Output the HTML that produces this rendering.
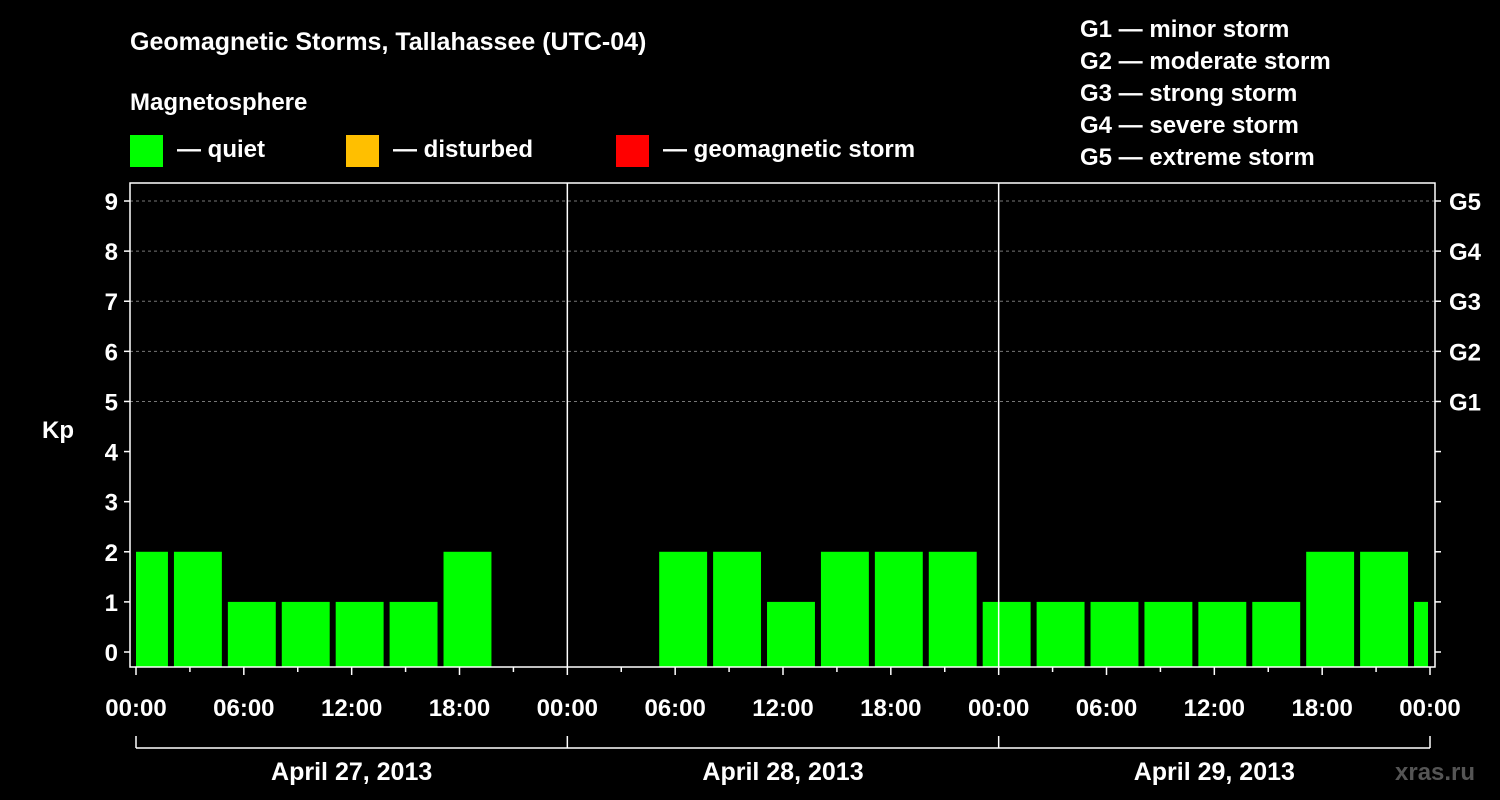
<!DOCTYPE html>
<html><head><meta charset="utf-8"><style>
html,body{margin:0;padding:0;background:#000;}
svg{display:block;font-family:"Liberation Sans",Arial,sans-serif;font-weight:bold;}
</style></head><body>
<svg id="chart" width="1500" height="800" viewBox="0 0 1500 800" xmlns="http://www.w3.org/2000/svg">
<rect width="1500" height="800" fill="#000"/>
<text x="130" y="50" fill="#fff" font-size="25">Geomagnetic Storms, Tallahassee (UTC-04)</text>
<text x="130" y="110" fill="#fff" font-size="24">Magnetosphere</text>
<g><rect x="130" y="135" width="33" height="32" fill="#00ff00"/><text x="177" y="157" fill="#fff" font-size="24">— quiet</text></g>
<g><rect x="346" y="135" width="33" height="32" fill="#ffbf00"/><text x="393" y="157" fill="#fff" font-size="24">— disturbed</text></g>
<g><rect x="616" y="135" width="33" height="32" fill="#ff0000"/><text x="663" y="157" fill="#fff" font-size="24">— geomagnetic storm</text></g>
<g fill="#fff" font-size="24">
<text x="1080" y="37">G1 — minor storm</text>
<text x="1080" y="69">G2 — moderate storm</text>
<text x="1080" y="101">G3 — strong storm</text>
<text x="1080" y="133">G4 — severe storm</text>
<text x="1080" y="165">G5 — extreme storm</text>
</g>
<g id="plot"></g>
<text x="1395" y="780" fill="#555" font-size="24">xras.ru</text>
</svg>
<script>
const days = ["April 27, 2013","April 28, 2013","April 29, 2013"];
const binStartHours = [-1,2,5,8,11,14,17, 29,32,35,38,41,44,47, 50,53,56,59,62,65,68,71];
const kpValues = [2,2,1,1,1,1,2, 2,2,1,2,2,2,1, 1,1,1,1,1,1,2,2,1];
const kpValuesFixed = [2,2,1,1,1,1,2, 2,2,1,2,2,2,1, 1,1,1,1,1,2,2,1];
const yTicks = [0,1,2,3,4,5,6,7,8,9];
const gLabels = ["G1","G2","G3","G4","G5"];
const xTickLabels = ["00:00","06:00","12:00","18:00"];

const NS="http://www.w3.org/2000/svg";
const g=document.getElementById('plot');
const X0=136,X1=1430,L=130,R=1435,T=183,B=667;
const x=h=>X0+h*(X1-X0)/72;
const y=v=>652-v*50.11;
function mk(tag,attrs,parent){const e=document.createElementNS(NS,tag);for(const k in attrs)e.setAttribute(k,attrs[k]);(parent||g).appendChild(e);return e;}

// gridlines
for(const v of yTicks){ if(v>=5){const l=mk('line',{x1:L,x2:R,y1:y(v),y2:y(v),stroke:'#777','stroke-dasharray':'3,3','stroke-width':1});

}}
// bars
kpValuesFixed.forEach((v,i)=>{
  const s=binStartHours[i];
  let xa=x(s)+2, xb=x(s+3)-4;
  xa=Math.max(xa,X0); xb=Math.min(xb,1428);
  const col=v>=5?'#ff0000':(v>=4?'#ffbf00':'#00ff00');
  const r=mk('rect',{x:xa,y:y(v),width:xb-xa,height:B-y(v),fill:col});
  
  
});
// frame
const fr=mk('rect',{x:L,y:T,width:R-L,height:B-T,fill:'none',stroke:'#fff','stroke-width':1.5});


// day dividers
[1,2].forEach(d=>{const l=mk('line',{x1:x(24*d),x2:x(24*d),y1:T,y2:B,stroke:'#fff','stroke-width':1.5});

});
// y ticks
yTicks.forEach(v=>{
  mk('line',{x1:L-6,x2:L,y1:y(v),y2:y(v),stroke:'#fff','stroke-width':1.5});
  mk('line',{x1:R,x2:R+6,y1:y(v),y2:y(v),stroke:'#fff','stroke-width':1.5});
  const t=mk('text',{x:L-12,y:y(v)+9,fill:'#fff','font-size':24,'text-anchor':'end'});t.textContent=v;
  
  
});
gLabels.forEach((s,i)=>{const t=mk('text',{x:1449,y:y(5+i)+9,fill:'#fff','font-size':24});t.textContent=s;

});
const yt=mk('text',{x:42,y:438,fill:'#fff','font-size':24});yt.textContent='Kp';


// x ticks
for(let h=0;h<=72;h+=3){mk('line',{x1:x(h),x2:x(h),y1:B,y2:B+(h%6==0?8:5),stroke:'#fff','stroke-width':1.5});}
for(let h=0;h<=72;h+=6){const lab=h%24==0?"00:00":xTickLabels[(h%24)/6];
  const t=mk('text',{x:x(h),y:716,fill:'#fff','font-size':24,'text-anchor':'middle'});t.textContent=lab;
  
  }
// day brackets
mk('line',{x1:x(0),x2:x(72),y1:748,y2:748,stroke:'#fff','stroke-width':1.5});
for(let d=0;d<=3;d++) mk('line',{x1:x(24*d),x2:x(24*d),y1:736,y2:748,stroke:'#fff','stroke-width':1.5});
days.forEach((s,i)=>{const t=mk('text',{x:x(24*i+12),y:780,fill:'#fff','font-size':25,'text-anchor':'middle'});t.textContent=s;

});
</script>
</body></html>
